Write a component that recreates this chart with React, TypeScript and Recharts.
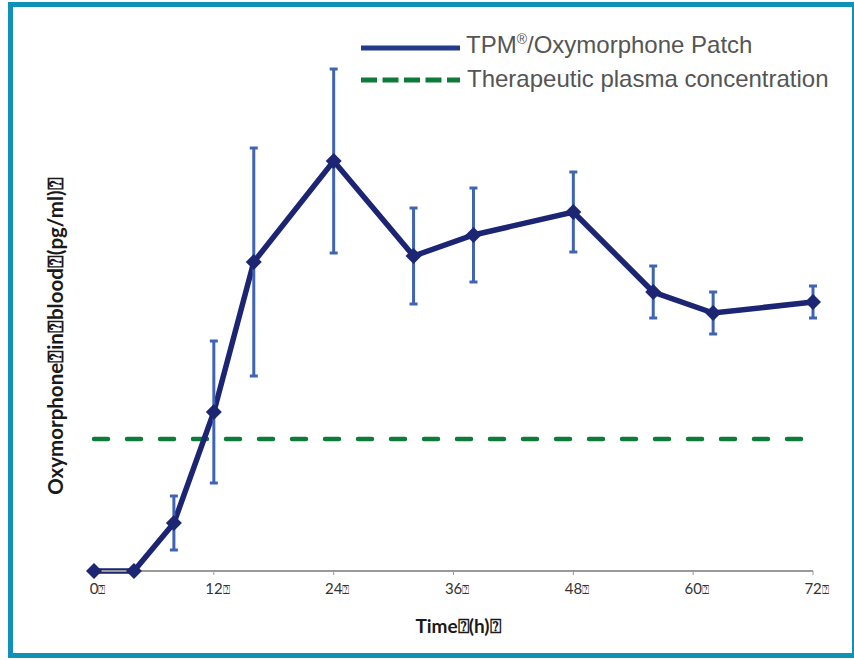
import { ComposedChart, Line, ErrorBar, XAxis, YAxis, ReferenceLine, Legend } from "recharts";

// missing-glyph box that the source chart shows after its labels
const BOX = "\u2370";

const hours = [0, 4, 8, 12, 16, 24, 32, 38, 48, 56, 62, 72];
const oxymorphone = [0, 0, 48, 159, 309, 410, 315, 336, 359, 279, 258, 269];
const spread = [0, 0, 27, 71, 114, 92, 48, 47, 40, 26, 21, 16];
const therapeuticLevel = 132;
const hourTicks = [0, 12, 24, 36, 48, 60, 72];

const seriesName = "TPM\u00ae/Oxymorphone Patch";
const thresholdName = "Therapeutic plasma concentration";
const xTitle = `Time${BOX}(h)${BOX}`;
const yTitle = `Oxymorphone${BOX}in${BOX}blood${BOX}(pg/ml)${BOX}`;

const rows = hours.map((h, i) => ({ h, conc: oxymorphone[i], sd: spread[i] }));

const NAVY = "#1c2573";
const BAR_BLUE = "#3f64b3";
const GREEN = "#0f7b3b";
const AXIS = "#9a9a9a";

type TickProps = { x?: number; y?: number; payload?: { value?: number } };

function HourTick({ x = 0, y = 0, payload }: TickProps) {
  const label = String(payload?.value ?? "");
  const half = (label.length * 8.6) / 2;
  return (
    <text x={x - half} y={y} dy={17} fontFamily="Lato, sans-serif" fontSize={15} fill="#333">
      {label}
      <tspan fontFamily="'DejaVu Sans', sans-serif" fontSize={12}>{BOX}</tspan>
    </text>
  );
}

type DotProps = { cx?: number; cy?: number; index?: number };

function Diamond({ cx, cy, index }: DotProps) {
  if (cx == null || cy == null) return null;
  const r = 8;
  return (
    <polygon
      key={`d${index}`}
      points={`${cx},${cy - r} ${cx + r},${cy} ${cx},${cy + r} ${cx - r},${cy}`}
      fill={NAVY}
      filter="url(#softEdge)"
    />
  );
}

function AxisTitles() {
  return (
    <g fontFamily="Lato, sans-serif" fontWeight={700} fill="#1a1a1a">
      <text x={458} y={633} textAnchor="middle" fontSize={19}>
        {xTitle}
      </text>
      <text x={63} y={336} transform="rotate(-90, 63, 336)" textAnchor="middle" fontSize={20.5}>
        {yTitle}
      </text>
    </g>
  );
}

function LegendBox() {
  return (
    <svg width={854} height={110} style={{ display: "block" }}>
      <line x1={361} y1={48} x2={460} y2={48} stroke="#243a8a" strokeWidth={5} />
      <text x={466} y={53} fontFamily="'Liberation Sans', Arial, sans-serif" fontSize={24} fill="#555">
        TPM
        <tspan fontSize={14} dy={-9}>{"\u00ae"}</tspan>
        <tspan dy={9}>/Oxymorphone Patch</tspan>
      </text>
      <line x1={361} y1={80} x2={460} y2={80} stroke={GREEN} strokeWidth={5} strokeDasharray="16 5.5" />
      <text x={467} y={87} fontFamily="'Liberation Sans', Arial, sans-serif" fontSize={24} fill="#555">
        {thresholdName}
      </text>
    </svg>
  );
}

export default function App() {
  return (
    <div style={{ position: "absolute", left: 0, top: 0, width: 854, height: 660, overflow: "hidden", background: "#fff" }}>
      <div
        style={{
          position: "absolute",
          left: 8,
          top: 2,
          width: 849,
          height: 656,
          boxSizing: "border-box",
          border: "5px solid #1190b8",
        }}
      />
      <div style={{ position: "absolute", left: 0, top: 0 }}>
        <ComposedChart width={854} height={660} data={rows} margin={{ top: 33, right: 41, bottom: 59, left: 94 }}>
          <defs>
            <filter id="softEdge" x="-50%" y="-50%" width="200%" height="200%">
              <feGaussianBlur stdDeviation={0.6} />
            </filter>
          </defs>
          <XAxis
            dataKey="h"
            type="number"
            domain={[0, 72]}
            ticks={hourTicks}
            interval={0}
            height={30}
            axisLine={{ stroke: AXIS, strokeWidth: 2 }}
            tickLine={{ stroke: AXIS, strokeWidth: 1 }}
            tickSize={4}
            tick={<HourTick />}
            label={{ content: () => <AxisTitles /> }}
          />
          <YAxis
            type="number"
            domain={[0, 538]}
            width={0}
            tick={false}
            tickLine={false}
            axisLine={{ stroke: AXIS, strokeWidth: 2 }}
          />
          <ReferenceLine
            y={therapeuticLevel}
            stroke={GREEN}
            strokeWidth={4.5}
            strokeDasharray="14 19"
            strokeLinecap="round"
          />
          <Line
            name={seriesName}
            dataKey="conc"
            type="linear"
            stroke={NAVY}
            strokeWidth={5.5}
            dot={<Diamond />}
            activeDot={false}
            isAnimationActive={false}
          />
          <Line
            dataKey="conc"
            stroke="none"
            dot={false}
            activeDot={false}
            legendType="none"
            isAnimationActive={false}
          >
            <ErrorBar dataKey="sd" width={4} stroke={BAR_BLUE} strokeWidth={3} direction="y" />
          </Line>
          <Legend
            layout="vertical"
            align="center"
            verticalAlign="middle"
            wrapperStyle={{ position: "absolute", left: 0, top: 0, width: 854, height: 110, pointerEvents: "none" }}
            content={() => <LegendBox />}
          />
        </ComposedChart>
      </div>
    </div>
  );
}
